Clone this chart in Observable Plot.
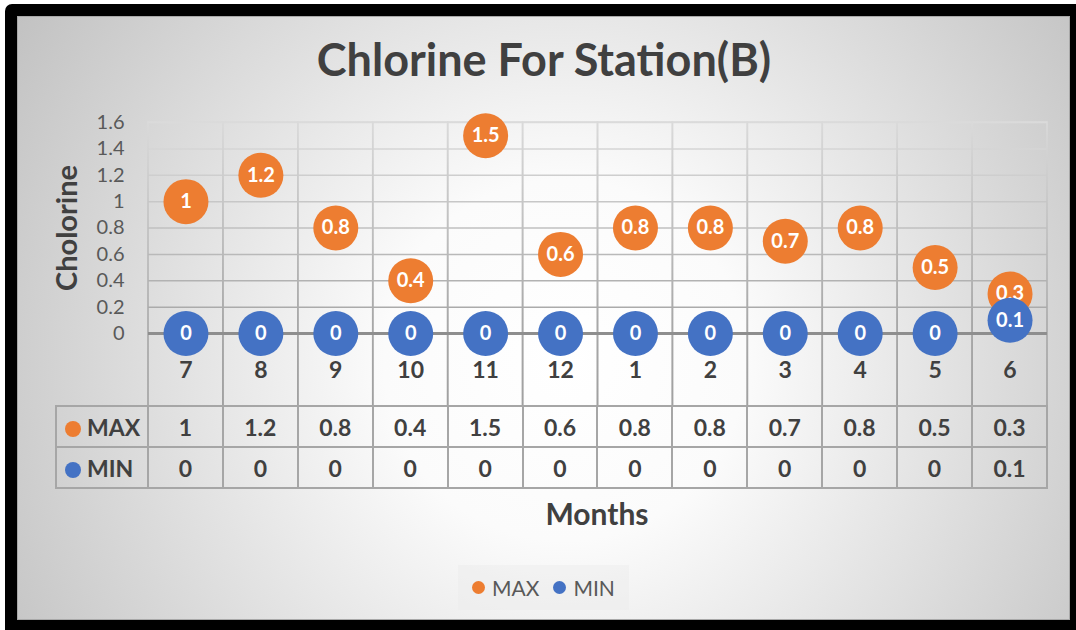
<!DOCTYPE html>
<html><head><meta charset="utf-8">
<script src="https://cdn.jsdelivr.net/npm/d3@7"></script>
<script src="https://cdn.jsdelivr.net/npm/@observablehq/plot@0.6"></script>
<style>
html,body{margin:0;padding:0;}
body{position:relative;width:1076px;height:630px;overflow:hidden;background:#fff;font-family:Lato,"Open Sans",sans-serif;}
#frame{position:absolute;left:5px;top:4px;width:1100px;height:660px;background:#000;border-radius:7px;}
#panel{position:absolute;left:17px;top:16px;width:1051px;height:602px;border:1px solid #a8a8a8;
  background:radial-gradient(circle farthest-corner at 52% 57%, #ffffff 0%, #fbfbfb 28%, #c2c2c2 100%);}
#title{position:absolute;left:0;width:1088px;top:37px;text-align:center;font-weight:bold;font-size:45px;line-height:1;color:#404040;}
#ytitle{position:absolute;left:65px;top:228px;transform:translate(-50%,-50%) rotate(-90deg);font-weight:bold;font-size:29px;line-height:1;color:#404040;white-space:nowrap;}
#xtitle{position:absolute;left:597px;top:513px;transform:translate(-50%,-50%);font-weight:bold;font-size:30px;line-height:1;color:#404040;white-space:nowrap;}
#chart{position:absolute;left:0;top:0;}
#tbl{position:absolute;left:55px;top:405px;border-collapse:collapse;table-layout:fixed;width:993px;}
#tbl tr{height:41px;}
#tbl td{border:2px solid #a6a6a6;padding:0;text-align:center;font-weight:bold;font-size:23px;color:#404040;}
#tbl td.lab{text-align:left;padding-left:8px;white-space:nowrap;}
.sw{display:inline-block;width:16px;height:16px;border-radius:50%;margin-right:6px;vertical-align:-1px;}
#legend{position:absolute;left:458px;top:565px;width:171px;height:45px;background:rgba(236,236,236,0.45);display:flex;align-items:center;justify-content:center;gap:14px;font-size:21px;color:#595959;}
#legend .it{display:flex;align-items:center;}
#legend .d{display:inline-block;width:13px;height:13px;border-radius:50%;margin-right:7px;}
</style>
</head><body>
<div id="frame"></div>
<div id="panel"></div>
<div id="title"></div>
<div id="ytitle"></div>
<div id="chart"></div>
<table id="tbl"></table>
<div id="xtitle"></div>
<div id="legend"></div>
<script>
const titleText = "Chlorine For Station(B)";
const yTitle = "Cholorine";
const xTitle = "Months";
const months = ["7","8","9","10","11","12","1","2","3","4","5","6"];
const maxValues = [1, 1.2, 0.8, 0.4, 1.5, 0.6, 0.8, 0.8, 0.7, 0.8, 0.5, 0.3];
const minValues = [0, 0, 0, 0, 0, 0, 0, 0, 0, 0, 0, 0.1];
const yTicks = [0, 0.2, 0.4, 0.6, 0.8, 1, 1.2, 1.4, 1.6];
const seriesNames = ["MAX", "MIN"];
const seriesColors = ["#ED7D31", "#4472C4"];

document.getElementById("title").textContent = titleText;
document.getElementById("ytitle").textContent = yTitle;
document.getElementById("xtitle").textContent = xTitle;

const W = 1076, H = 406, ML = 148, MR = 29, MT = 122, MB = 73;
const maxData = months.map((m, i) => ({month: m, value: maxValues[i]}));
const minData = months.map((m, i) => ({month: m, value: minValues[i]}));

const plot = Plot.plot({
  width: W, height: H,
  marginLeft: ML, marginRight: MR, marginTop: MT, marginBottom: MB,
  style: {background: "transparent", fontFamily: "Lato, 'Open Sans', sans-serif", overflow: "visible"},
  x: {type: "band", domain: months, padding: 0, round: false, axis: null},
  y: {domain: [0, 1.6], axis: null},
  marks: [
    Plot.ruleY(yTicks.slice(1), {y: d => d, stroke: "url(#hGrad)", strokeWidth: 1.5}),
    Plot.cell(months, {x: d => d, fill: "none", stroke: "url(#vGrad)", strokeWidth: 1.6, inset: 0, insetBottom: -MB}),
    Plot.ruleY([0], {y: d => d, stroke: "#8e8e8e", strokeWidth: 3}),
    Plot.axisY(yTicks, {tickSize: 0, tickPadding: 24, tickFormat: d => String(d), fontSize: 20, fill: "#595959", label: null}),
    Plot.axisX({tickSize: 0, tickPadding: 28, fontSize: 23, fontWeight: "bold", fill: "#404040", label: null}),
    Plot.dot(maxData, {x: "month", y: "value", r: 22.5, fill: seriesColors[0]}),
    Plot.text(maxData, {x: "month", y: "value", text: d => String(d.value), fill: "white", fontWeight: "bold", fontSize: 20}),
    Plot.dot(minData, {x: "month", y: "value", r: 22.5, fill: seriesColors[1]}),
    Plot.text(minData, {x: "month", y: "value", text: d => String(d.value), fill: "white", fontWeight: "bold", fontSize: 20})
  ]
});
d3.select(plot).insert("defs", ":first-child").html(
  `<linearGradient id="hGrad" gradientUnits="userSpaceOnUse" x1="0" y1="${MT}" x2="0" y2="${H - MB}">
     <stop offset="0" stop-color="#dcdcdc"/><stop offset="1" stop-color="#a4a4a4"/></linearGradient>
   <linearGradient id="vGrad" gradientUnits="userSpaceOnUse" x1="0" y1="${MT}" x2="0" y2="${H}">
     <stop offset="0" stop-color="#dadada"/><stop offset="0.7" stop-color="#a8a8a8"/><stop offset="1" stop-color="#a0a0a0"/></linearGradient>`);
document.getElementById("chart").appendChild(plot);

// data table
const tbl = document.getElementById("tbl");
const cg = document.createElement("colgroup");
cg.innerHTML = `<col style="width:92px">` + months.map(() => `<col style="width:${(1047 - 148) / months.length}px">`).join("");
tbl.appendChild(cg);
[maxValues, minValues].forEach((vals, si) => {
  const tr = document.createElement("tr");
  tr.innerHTML = `<td class="lab"><span class="sw" style="background:${seriesColors[si]}"></span>${seriesNames[si]}</td>` +
    vals.map(v => `<td>${v}</td>`).join("");
  tbl.appendChild(tr);
});

// legend
document.getElementById("legend").innerHTML = seriesNames.map((n, i) =>
  `<span class="it"><span class="d" style="background:${seriesColors[i]}"></span>${n}</span>`).join("");
</script>
</body></html>
